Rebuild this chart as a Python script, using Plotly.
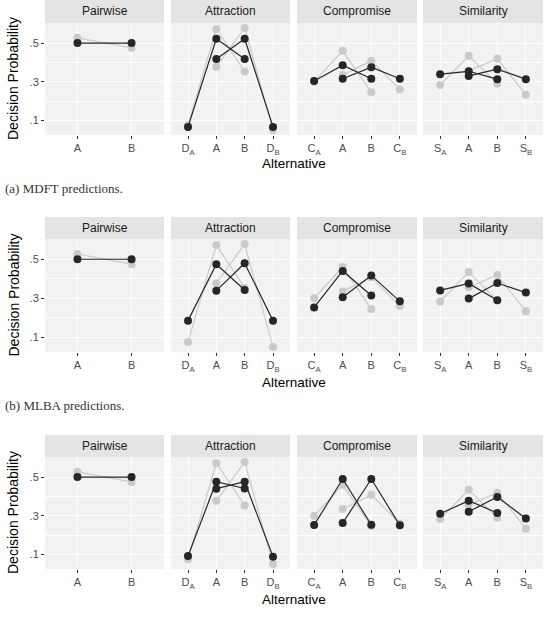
import plotly.graph_objects as go

# ---------------- data ----------------
facets = ["Pairwise", "Attraction", "Compromise", "Similarity"]
cats_pairwise = ["A", "B"]
cats_attraction = ["D<sub>A</sub>", "A", "B", "D<sub>B</sub>"]
cats_compromise = ["C<sub>A</sub>", "A", "B", "C<sub>B</sub>"]
cats_similarity = ["S<sub>A</sub>", "A", "B", "S<sub>B</sub>"]

# observed choice proportions (grey)
obs_pairwise = [[0.527, 0.475]]
obs_attraction = [[0.075, 0.573, 0.353], [0.377, 0.578, 0.050]]
obs_compromise = [[0.300, 0.460, 0.245], [0.335, 0.408, 0.260]]
obs_similarity = [[0.283, 0.434, 0.289], [0.356, 0.419, 0.233]]

# model predictions (black)
mdft_pairwise = [[0.500, 0.500]]
mdft_attraction = [[0.066, 0.522, 0.418], [0.418, 0.522, 0.066]]
mdft_compromise = [[0.304, 0.385, 0.315], [0.315, 0.375, 0.315]]
mdft_similarity = [[0.339, 0.354, 0.313], [0.330, 0.365, 0.313]]

mlba_pairwise = [[0.500, 0.500]]
mlba_attraction = [[0.185, 0.474, 0.342], [0.339, 0.479, 0.185]]
mlba_compromise = [[0.253, 0.440, 0.314], [0.305, 0.417, 0.284]]
mlba_similarity = [[0.340, 0.376, 0.290], [0.298, 0.378, 0.329]]

mdbs_pairwise = [[0.500, 0.500]]
mdbs_attraction = [[0.091, 0.476, 0.441], [0.440, 0.476, 0.088]]
mdbs_compromise = [[0.252, 0.490, 0.253], [0.262, 0.490, 0.250]]
mdbs_similarity = [[0.310, 0.378, 0.314], [0.321, 0.397, 0.286]]

captions = ["(a) MDFT predictions.", "(b) MLBA predictions.", "(c) MDbS predictions."]
y_ticks = [0.1, 0.3, 0.5]
y_tick_labels = [".1", ".3", ".5"]
y_minor = [0.2, 0.4, 0.6]

# ---------------- layout helpers ----------------
W, H = 555, 621
def fx(p): return p / W
def fy(p): return 1 - p / H

cats = [cats_pairwise, cats_attraction, cats_compromise, cats_similarity]
observed = [obs_pairwise, obs_attraction, obs_compromise, obs_similarity]
models = [
    [mdft_pairwise, mdft_attraction, mdft_compromise, mdft_similarity],
    [mlba_pairwise, mlba_attraction, mlba_compromise, mlba_similarity],
    [mdbs_pairwise, mdbs_attraction, mdbs_compromise, mdbs_similarity],
]

cols_px = [(45, 164), (171, 290), (297, 417), (423, 543)]
rows_px = [
    dict(strip=(0, 23), plot=(23, 135), alt=163, cap=188),
    dict(strip=(217, 239), plot=(239, 352), alt=382, cap=405),
    dict(strip=(435, 457), plot=(457, 569), alt=599, cap=625),
]

GREY = "#CACACA"
BLACK = "#262626"
PANEL = "#F2F2F2"
STRIP = "#E4E4E4"
FONT = "Liberation Sans, Arial, sans-serif"

fig = go.Figure()
layout = dict(width=W, height=H, margin=dict(l=0, r=0, t=0, b=0),
              paper_bgcolor="white", plot_bgcolor=PANEL, showlegend=False,
              font=dict(family=FONT, color="#4D4D4D"))
shapes, annotations = [], []

n = 0
for r, row in enumerate(rows_px):
    for c, (x0, x1) in enumerate(cols_px):
        n += 1
        xa = "x" if n == 1 else f"x{n}"
        ya = "y" if n == 1 else f"y{n}"
        cl = cats[c]
        def line_x(j):
            if len(cl) == 2:
                return cl
            return cl[0:3] if j == 0 else cl[1:4]
        for series, col in ((observed[c], GREY), (models[r][c], BLACK)):
            for j, vals in enumerate(series):
                fig.add_trace(go.Scatter(
                    x=line_x(j), y=vals, mode="lines+markers", xaxis=xa, yaxis=ya,
                    line=dict(color=col, width=1.2),
                    marker=dict(color=col, size=8), hoverinfo="skip"))
        p0, p1 = row["plot"]
        layout["xaxis" if n == 1 else f"xaxis{n}"] = dict(
            domain=[fx(x0), fx(x1)], anchor=ya, type="category",
            categoryorder="array", categoryarray=cl,
            range=[-0.6, len(cl) - 0.4], showgrid=True, gridcolor="white",
            gridwidth=1.1, zeroline=False, showline=False,
            ticks="outside", ticklen=3, tickcolor="#333333", tickwidth=1,
            tickfont=dict(size=11, color="#4D4D4D", family=FONT), fixedrange=True)
        layout["yaxis" if n == 1 else f"yaxis{n}"] = dict(
            domain=[fy(p1), fy(p0)], anchor=xa, range=[0.024, 0.604],
            tickvals=y_ticks, ticktext=y_tick_labels,
            showticklabels=(c == 0), ticks="outside" if c == 0 else "",
            ticklen=3, tickcolor="#333333", tickwidth=1,
            tickfont=dict(size=11, color="#4D4D4D", family=FONT),
            showgrid=True, gridcolor="white", gridwidth=1.1, zeroline=False,
            showline=False, fixedrange=True,
            minor=dict(tickvals=y_minor, showgrid=True, gridcolor="white",
                       gridwidth=0.5, ticks=""))
        s0, s1 = row["strip"]
        shapes.append(dict(type="rect", xref="paper", yref="paper",
                           x0=fx(x0), x1=fx(x1), y0=fy(s1), y1=fy(s0),
                           fillcolor=STRIP, line=dict(width=0), layer="below"))
        annotations.append(dict(text=facets[c], xref="paper", yref="paper",
                                x=fx((x0 + x1) / 2), y=fy((s0 + s1) / 2),
                                xanchor="center", yanchor="middle", showarrow=False,
                                font=dict(size=12, color="#1A1A1A", family=FONT)))
    p0, p1 = row["plot"]
    annotations.append(dict(text="Decision Probability", xref="paper", yref="paper",
                            x=fx(13), y=fy((p0 + p1) / 2), textangle=-90,
                            xanchor="center", yanchor="middle", showarrow=False,
                            font=dict(size=14, color="#000000", family=FONT)))
    annotations.append(dict(text="Alternative", xref="paper", yref="paper",
                            x=fx(294), y=fy(row["alt"]), xanchor="center",
                            yanchor="middle", showarrow=False,
                            font=dict(size=13.5, color="#000000", family=FONT)))
    annotations.append(dict(text=captions[r], xref="paper", yref="paper",
                            x=fx(3), y=fy(row["cap"]), xanchor="left",
                            yanchor="middle", showarrow=False,
                            font=dict(size=13, color="#333333",
                                      family="Liberation Serif, Times New Roman, serif")))

layout["shapes"] = shapes
layout["annotations"] = annotations
fig.update_layout(**layout)
fig.write_html("out.html")
